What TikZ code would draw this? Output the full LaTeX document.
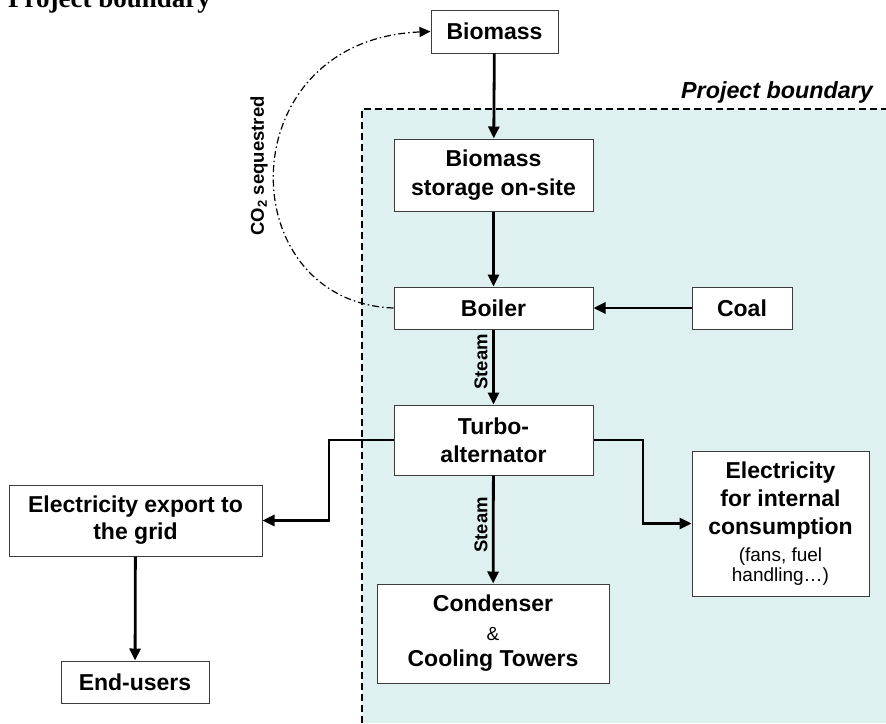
\documentclass[tikz,border=0pt]{standalone}
\usepackage{fontspec}
\setmainfont{Liberation Sans}
\newfontfamily\timesfont{Liberation Serif}
\usetikzlibrary{arrows.meta}
\definecolor{pbfill}{RGB}{223,240,240}
\definecolor{boxline}{RGB}{60,60,60}
\tikzset{
  box/.style={draw=boxline, line width=1pt, fill=white, inner sep=0pt, align=center,
    font=\fontsize{23}{28}\selectfont\bfseries},
  flow/.style={line width=2.8pt, -{Triangle[length=12pt,width=11pt]}},
  smalllab/.style={font=\fontsize{18.5}{20}\selectfont\bfseries, inner sep=0pt},
}
\begin{document}
\begin{tikzpicture}[x=1pt,y=-1pt]
\useasboundingbox (0,0) rectangle (886,723);
\clip (0,0) rectangle (886,723);
% project boundary area
\fill[pbfill] (362,109) rectangle (886,723);
\draw[line width=1.5pt, dash pattern=on 7pt off 4pt] (362,723) -- (362,109) -- (886,109);
\node[anchor=base east, inner sep=0pt, font=\fontsize{23.3}{26}\selectfont\bfseries\itshape] (pblab) at (873,98) {Project boundary};
\node[anchor=base west, inner sep=0pt, font=\timesfont\fontsize{27}{30}\selectfont\bfseries] (pbhead) at (8,7) {Project boundary};

% boxes
\node[box, minimum width=127pt, minimum height=43pt] (bio) at (494.5,31.5) {Biomass};
\node[box, minimum width=199pt, minimum height=72pt] (stor) at (493.5,175) {Biomass\\[1pt]storage on-site};
\node[box, minimum width=199pt, minimum height=42pt] (boil) at (493.5,308) {Boiler};
\node[box, minimum width=100pt, minimum height=42pt] (coal) at (742,308) {Coal};
\node[box, minimum width=199pt, minimum height=70pt] (turbo) at (493.5,440) {Turbo-\\alternator};
\node[box, minimum width=232pt, minimum height=99pt] (cond) at (493,633.5) {Condenser\\[1pt]{\fontsize{19}{24}\selectfont\mdseries \&}\\[-2pt]Cooling Towers};
\node[box, minimum width=177pt, minimum height=145pt] (intl) at (780.5,523.5) {Electricity\\for internal\\consumption\\[-1pt]{\fontsize{19}{23}\selectfont\mdseries (fans, fuel}\\[-8pt]{\fontsize{19}{21}\selectfont\mdseries handling\ldots)}};
\node[box, minimum width=253pt, minimum height=71pt] (exp) at (135.5,520.5) {Electricity export to\\[-1pt]the grid};
\node[box, minimum width=148pt, minimum height=42pt] (end) at (135,682) {End-users};

% connectors
\draw[flow] (bio) -- (stor);
\draw[flow] (stor) -- (boil);
\draw[flow] (coal) -- (boil);
\draw[flow] (boil) -- (turbo);
\draw[flow] (turbo) -- (cond);
\node[smalllab, rotate=90] (st1) at (481,362) {Steam};
\node[smalllab, rotate=90] (st2) at (481,525) {Steam};
\coordinate (t1) at (329,440);
\coordinate (t2) at (643,440);
\draw[flow] (turbo.west |- t1) -- (t1) |- (exp.east);
\draw[flow] (turbo.east |- t2) -- (t2) |- (intl.west);
\draw[flow] (exp) -- (end);

% CO2 sequestred
\draw[line width=1.2pt, dash pattern=on 7pt off 3pt on 1.5pt off 3pt, -{Triangle[length=11pt,width=10pt]}]
  (boil.west) .. controls (230,302) and (228,40) .. (bio.west);
\node[smalllab, rotate=90] (co2) at (259,166) {CO\textsubscript{2} sequestred};
\end{tikzpicture}
\end{document}
